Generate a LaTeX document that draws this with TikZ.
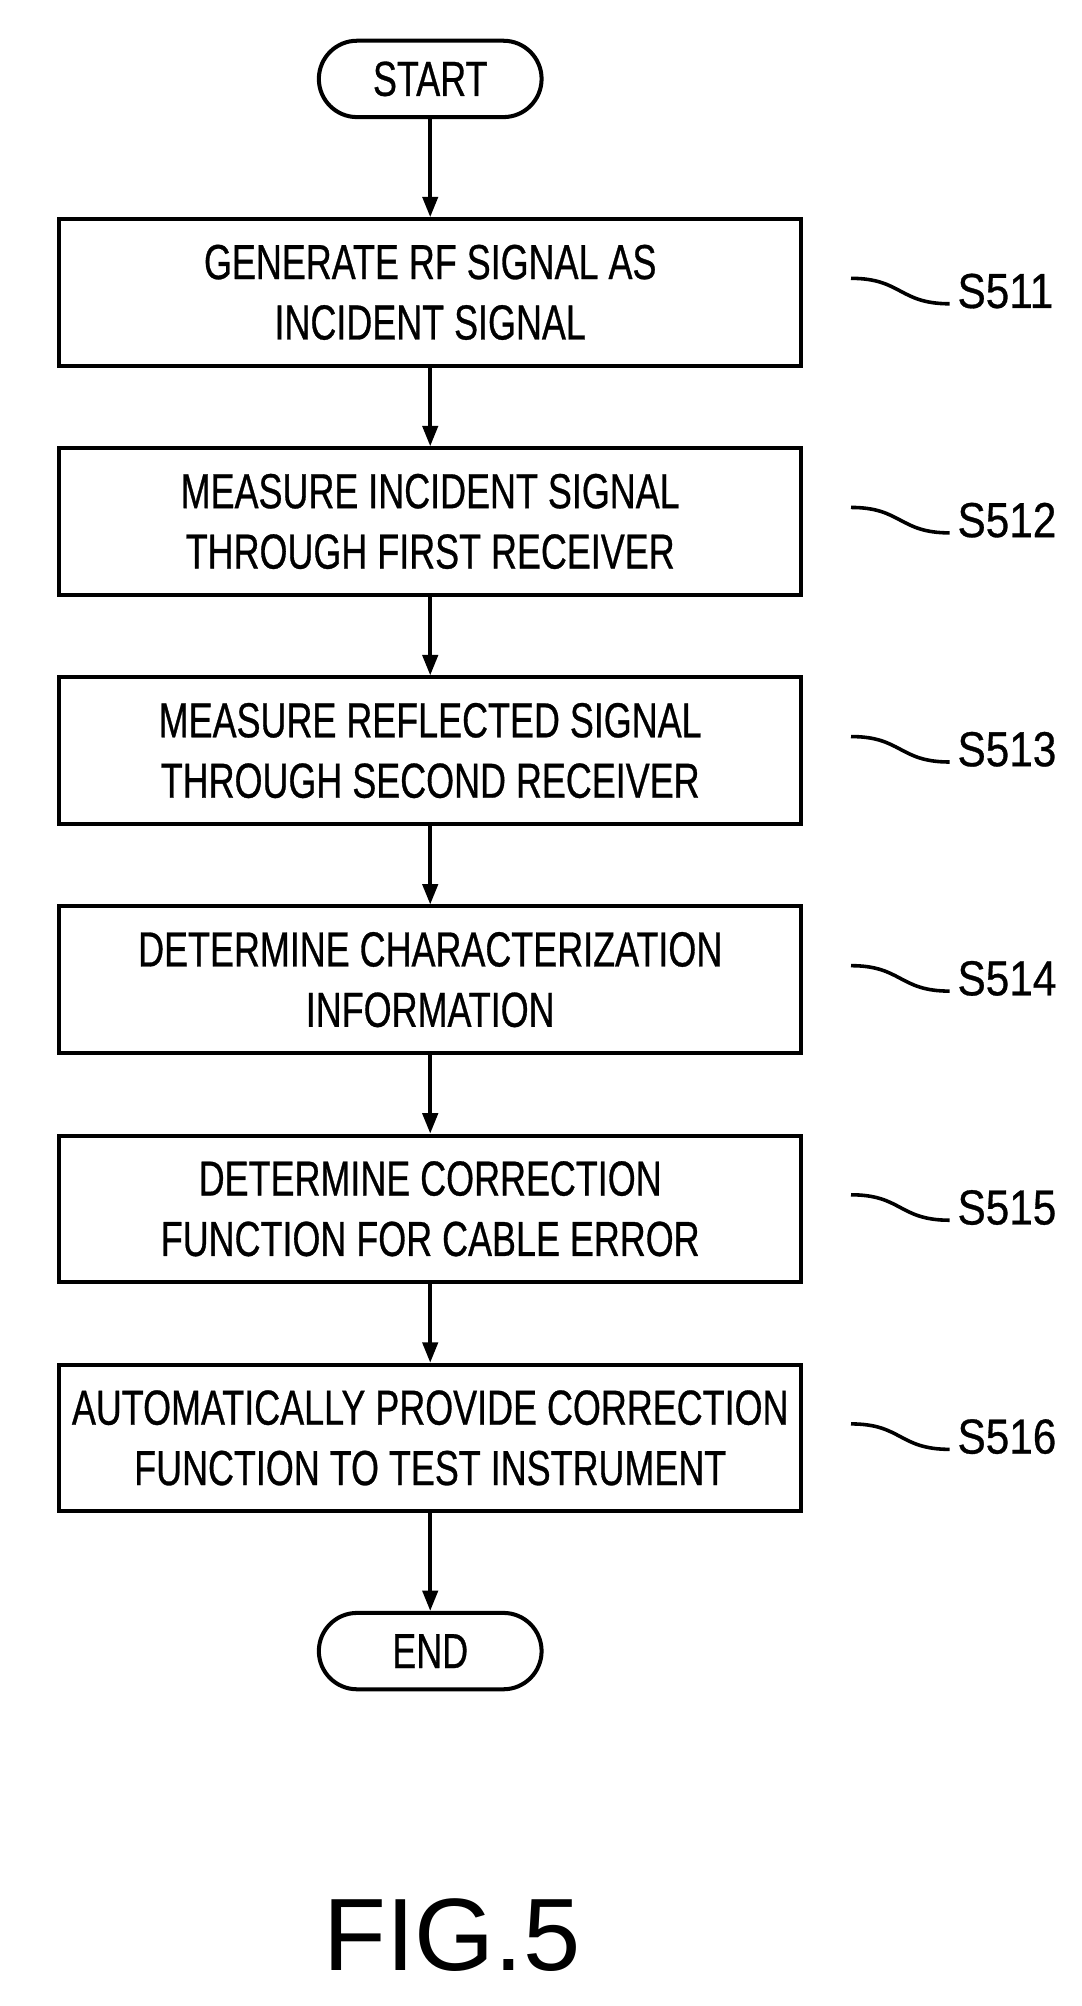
\documentclass[tikz,border=0pt]{standalone}
\usepackage{fontspec}
\setmainfont{Liberation Sans}
\newfontfamily\narrowfont[FakeStretch=0.73, FakeBold=0.6]{Liberation Sans}
\newfontfamily\labelfont[FakeStretch=0.86, FakeBold=0.6]{Liberation Sans}
\usetikzlibrary{positioning, arrows.meta}
\tikzset{
  term/.style = {rectangle, rounded corners = 0.6cm, minimum width = 3.5cm, minimum height = 1.2cm, draw = black, line width = 1.8pt, font = \narrowfont\fontsize{22}{26}\selectfont},
  process/.style = {rectangle, minimum width = 11.66cm, minimum height = 2.3cm, align = center, draw = black, line width = 1.8pt, font = \narrowfont\fontsize{22}{27}\selectfont},
  arrow/.style = {line width = 1.6pt, -{Triangle[length=0.32cm, width=0.24cm]}},
  tag/.style = {font = \labelfont\fontsize{22}{26}\selectfont, anchor = west},
  wave/.style = {line width = 1.6pt}
}
\begin{document}
\begin{tikzpicture}[node distance = 3.6cm]
    \useasboundingbox (0,0) rectangle (17,-31.52);
    % \node(label)[style]{text};
    \node(start1)[term] at (6.76,-1.24) {START};
    \node(s511)[process, below = 1.54cm of start1] {GENERATE RF SIGNAL AS\\INCIDENT SIGNAL};
    \node(s512)[process, below of = s511] {MEASURE INCIDENT SIGNAL\\THROUGH FIRST RECEIVER};
    \node(s513)[process, below of = s512] {MEASURE REFLECTED SIGNAL\\THROUGH SECOND RECEIVER};
    \node(s514)[process, below of = s513] {DETERMINE CHARACTERIZATION\\INFORMATION};
    \node(s515)[process, below of = s514] {DETERMINE CORRECTION\\FUNCTION FOR CABLE ERROR};
    \node(s516)[process, below of = s515] {AUTOMATICALLY PROVIDE CORRECTION\\FUNCTION TO TEST INSTRUMENT};
    \node(end1)[term, below of = s516, yshift = 0.25cm] {END};
    \node(fig)[font = \fontsize{46}{50}\selectfont] at (7.1,-30.4) {FIG.5};

    \draw[arrow](start1)--(s511);
    \draw[arrow](s511)--(s512);
    \draw[arrow](s512)--(s513);
    \draw[arrow](s513)--(s514);
    \draw[arrow](s514)--(s515);
    \draw[arrow](s515)--(s516);
    \draw[arrow](s516)--(end1);

    % step labels with wavy leaders
    \foreach \s/\t in {s511/S511, s512/S512, s513/S513, s514/S514, s515/S515, s516/S516} {
        \node(l\s)[tag] at ([xshift = 2.3cm, yshift = 0.02cm]\s.east) {\t};
        \coordinate(w\s) at ([xshift = 0.75cm, yshift = 0.22cm]\s.east);
        \draw[wave](w\s) .. controls +(0.8,0) and +(-0.8,0) .. ([yshift = -0.2cm]l\s.west);
    }
\end{tikzpicture}
\end{document}
